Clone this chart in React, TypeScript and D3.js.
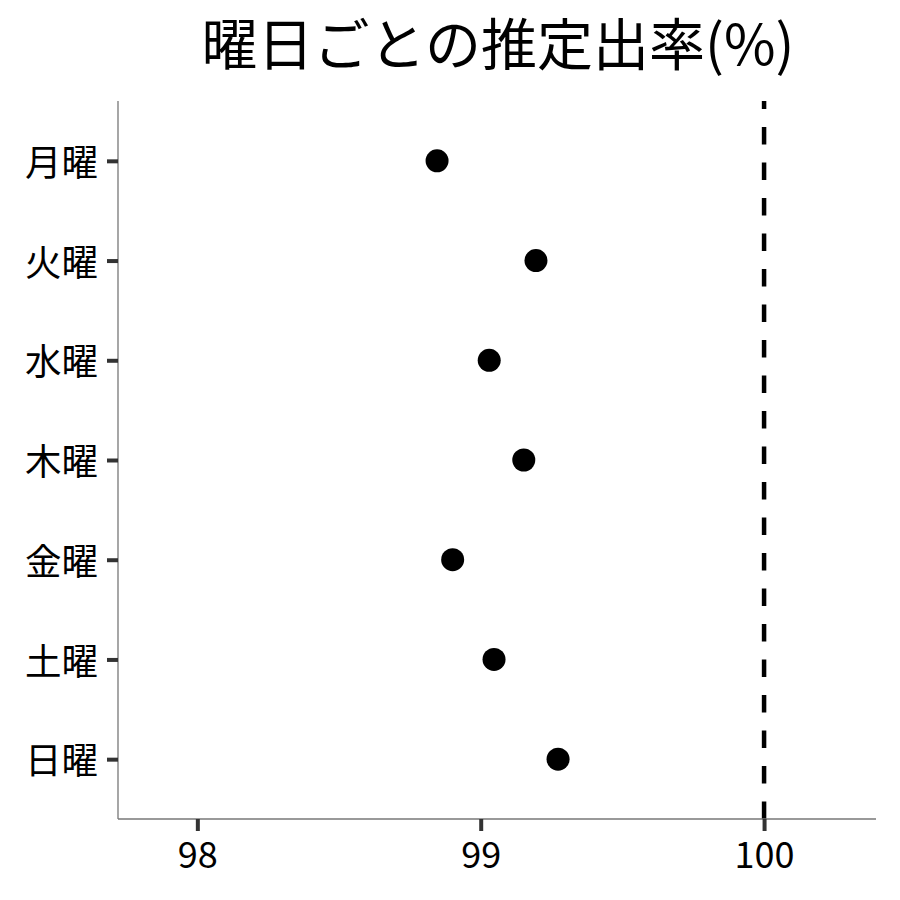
import React, { useEffect, useRef } from 'react'
import * as d3 from 'd3'

const days = ['月曜', '火曜', '水曜', '木曜', '金曜', '土曜', '日曜']
const rates = [98.846, 99.195, 99.03, 99.152, 98.901, 99.047, 99.273]
const xTicks = [98, 99, 100]
const refValue = 100
const title = '曜日ごとの推定出率(%)'

export default function App() {
    const svgRef = useRef<SVGSVGElement>(null)
    const width = 900
    const height = 900

    useEffect(() => {
        if (!svgRef.current) return
        const svg = d3.select(svgRef.current)
        svg.selectAll('*').remove()

        const left = 118, right = 876, top = 101, bottom = 819
        const font = '"Noto Sans CJK JP", "Noto Sans", sans-serif'

        const x = d3.scaleLinear().domain([97.72, 100.395]).range([left, right])
        const y = d3.scalePoint<string>().domain(days).range([top, bottom]).padding(0.6)

        // title
        svg.append('text')
            .attr('x', 498)
            .attr('y', 65)
            .attr('text-anchor', 'middle')
            .attr('font-family', font)
            .attr('font-size', 56)
            .attr('fill', '#000')
            .text(title)

        // reference line (dashes start from the bottom like ggplot)
        svg.append('line')
            .attr('x1', x(refValue)).attr('x2', x(refValue))
            .attr('y1', bottom).attr('y2', top)
            .attr('stroke', '#000')
            .attr('stroke-width', 4.5)
            .attr('stroke-dasharray', '17.5,18')

        // x axis
        const gx = svg.append('g').attr('transform', `translate(0,${bottom})`)
            .call(d3.axisBottom(x).tickValues(xTicks).tickSize(12).tickPadding(8).tickFormat(d3.format('d')))
        gx.select('.domain').attr('stroke', '#777').attr('stroke-width', 1.3)
            .attr('d', `M${left},0H${right}`)
        gx.selectAll('.tick line').attr('stroke', '#333').attr('stroke-width', 4)
        gx.selectAll('.tick text')
            .attr('font-family', font).attr('font-size', 36).attr('fill', '#000')
            .attr('dy', null).attr('y', 49)

        // y axis
        const gy = svg.append('g').attr('transform', `translate(${left},0)`)
            .call(d3.axisLeft(y).tickSize(11).tickPadding(9))
        gy.select('.domain').attr('stroke', '#777').attr('stroke-width', 1.3)
            .attr('d', `M0,${top}V${bottom}`)
        gy.selectAll('.tick line').attr('stroke', '#333').attr('stroke-width', 4)
        gy.selectAll('.tick text')
            .attr('font-family', font).attr('font-size', 36.5).attr('fill', '#000')
            .attr('dy', '0.4em')

        // points
        svg.append('g').selectAll('circle')
            .data(days.map((d, i) => ({ day: d, rate: rates[i] })))
            .enter().append('circle')
            .attr('cx', d => x(d.rate))
            .attr('cy', d => y(d.day) || 0)
            .attr('r', 11.5)
            .attr('fill', '#000')
    }, [])

    return (
        <svg ref={svgRef} width={width} height={height} viewBox={`0 0 ${width} ${height}`}
            style={{ position: 'absolute', left: 0, top: 0, background: '#fff' }} />
    )
}
